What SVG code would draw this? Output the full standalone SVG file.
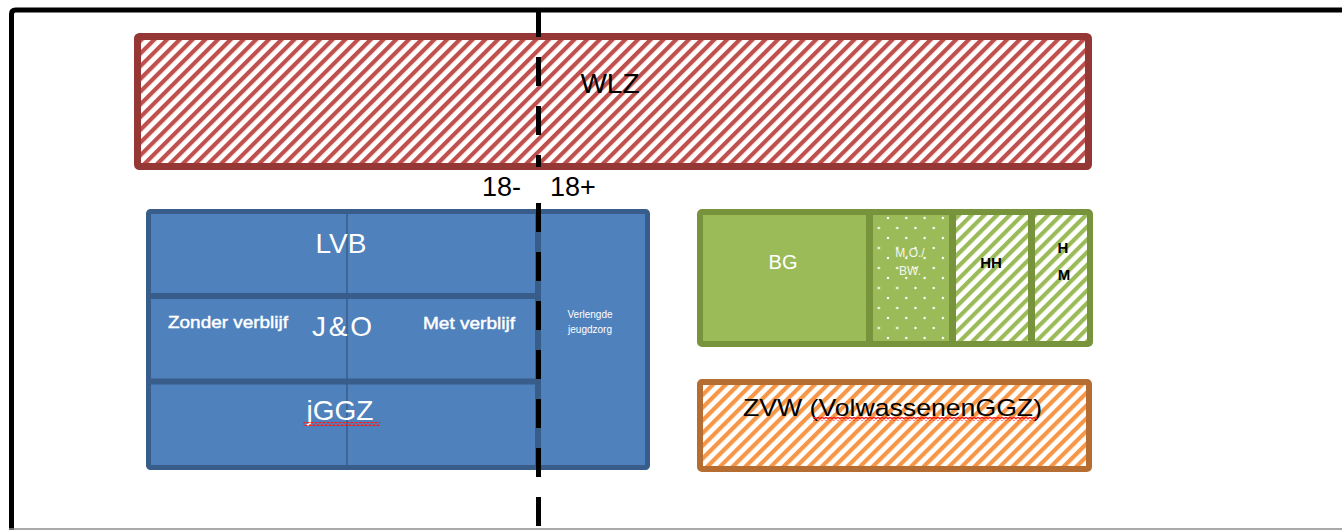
<svg xmlns="http://www.w3.org/2000/svg" width="1342" height="530" viewBox="0 0 1342 530">
<style>
.sans{font-family:"Liberation Sans",Arial,sans-serif}
.w{fill:#ffffff}
.k{fill:#000000}
.blueEdge{stroke:#385D8A;fill:none}
.greenEdge{stroke:#77933C;fill:none}
.semi{stroke:#ffffff;stroke-width:0.45}
</style>
<defs>
<pattern id="hatchRed" width="9" height="9" patternUnits="userSpaceOnUse" patternTransform="rotate(45)">
<rect width="9" height="9" fill="#ffffff"/><rect width="4.2" height="9" fill="#C0504D"/>
</pattern>
<pattern id="hatchGreen" width="9" height="9" patternUnits="userSpaceOnUse" patternTransform="rotate(45)">
<rect width="9" height="9" fill="#ffffff"/><rect width="4.2" height="9" fill="#9BBB59"/>
</pattern>
<pattern id="hatchOrange" width="9" height="9" patternUnits="userSpaceOnUse" patternTransform="rotate(45)">
<rect width="9" height="9" fill="#ffffff"/><rect width="4.2" height="9" fill="#F79646"/>
</pattern>
<pattern id="dots" x="888" y="218" width="18.3" height="20" patternUnits="userSpaceOnUse">
<rect width="18.3" height="20" fill="#9BBB59"/>
<circle cx="0" cy="0" r="1.2" fill="#ffffff"/><circle cx="18.3" cy="0" r="1.2" fill="#ffffff"/>
<circle cx="0" cy="20" r="1.2" fill="#ffffff"/><circle cx="18.3" cy="20" r="1.2" fill="#ffffff"/>
<circle cx="9.15" cy="10" r="1.2" fill="#ffffff"/>
</pattern>
<pattern id="squiggle" width="4" height="4" patternUnits="userSpaceOnUse">
<path d="M0 3 L2 1 L4 3" fill="none" stroke="#FF1A1A" stroke-width="1.3"/>
</pattern>
</defs>

<g id="frame">
<path d="M11.5 530 V14 Q11.5 10 15.5 10 H1342" fill="none" stroke="#000" stroke-width="5"/>
<line x1="9" y1="529" x2="1342" y2="529" stroke="#8c8c8c" stroke-width="1.5"/>
</g>

<g id="wlz">
<rect x="137.5" y="36.5" width="951" height="130" rx="2" fill="url(#hatchRed)" stroke="#953735" stroke-width="7"/>
<text class="sans k" x="610" y="93" font-size="28" text-anchor="middle">WLZ</text>
</g>

<g id="jeugd">
<rect x="148.5" y="211.5" width="499" height="256" rx="2" fill="#4F81BD" stroke="#385D8A" stroke-width="5"/>
<line class="blueEdge" x1="146" y1="296" x2="538" y2="296" stroke-width="6"/>
<line class="blueEdge" x1="146" y1="381.5" x2="538" y2="381.5" stroke-width="6"/>
<line class="blueEdge" x1="538" y1="209" x2="538" y2="470" stroke-width="6"/>
<line class="blueEdge" x1="347" y1="213" x2="347" y2="466" stroke-width="1.5"/>
<text class="sans w" x="341" y="253" font-size="28" text-anchor="middle">LVB</text>
<text class="sans w" x="342" y="336" font-size="28" text-anchor="middle" textLength="60">J&amp;O</text>
<text class="sans w" x="340" y="420" font-size="28" text-anchor="middle">jGGZ</text>
<rect x="303" y="422" width="77" height="4" fill="url(#squiggle)"/>
<text class="sans w semi" x="168" y="328" font-size="17" textLength="120" lengthAdjust="spacingAndGlyphs">Zonder  verblijf</text>
<text class="sans w semi" x="423" y="329" font-size="17" textLength="92" lengthAdjust="spacingAndGlyphs">Met verblijf</text>
<text class="sans w" x="590" y="318" font-size="10" text-anchor="middle">Verlengde</text>
<text class="sans w" x="590" y="333" font-size="10" text-anchor="middle">jeugdzorg</text>
</g>

<g id="wmo">
<rect x="703" y="215" width="163" height="127" fill="#9BBB59"/>
<rect x="873" y="215" width="76" height="127" fill="url(#dots)"/>
<rect x="956" y="215" width="72" height="127" fill="url(#hatchGreen)"/>
<rect x="1035" y="215" width="53" height="127" fill="url(#hatchGreen)"/>
<rect class="greenEdge" x="700" y="212" width="390" height="132" rx="2" stroke-width="6"/>
<line class="greenEdge" x1="869.5" y1="212" x2="869.5" y2="344" stroke-width="7"/>
<line class="greenEdge" x1="952.5" y1="212" x2="952.5" y2="344" stroke-width="7"/>
<line class="greenEdge" x1="1031.5" y1="212" x2="1031.5" y2="344" stroke-width="7"/>
<text class="sans w" x="783" y="269" font-size="20" text-anchor="middle">BG</text>
<text class="sans" x="910" y="257" font-size="12" text-anchor="middle" fill="#f4f7ee">M.O./</text>
<text class="sans" x="910" y="275" font-size="12" text-anchor="middle" fill="#f4f7ee">BW.</text>
<text class="sans k" x="991" y="268" font-size="15" font-weight="bold" text-anchor="middle">HH</text>
<text class="sans k" x="1063" y="253" font-size="15" font-weight="bold" text-anchor="middle">H</text>
<text class="sans k" x="1064" y="280" font-size="15" font-weight="bold" text-anchor="middle">M</text>
</g>

<g id="zvw">
<rect x="700" y="382" width="389" height="87" rx="2" fill="url(#hatchOrange)" stroke="#B66D31" stroke-width="6"/>
<text class="sans k" x="743" y="416" font-size="24" textLength="299" lengthAdjust="spacingAndGlyphs">ZVW (VolwassenenGGZ)</text>
<rect x="813" y="417" width="224" height="4" fill="url(#squiggle)"/>
</g>

<g id="age-labels">
<text class="sans k" x="482" y="196" font-size="27">18-</text>
<text class="sans k" x="550" y="196" font-size="27">18+</text>
</g>

<g id="connectors">
<line x1="538.5" y1="8" x2="538.5" y2="167" stroke="#000" stroke-width="5" stroke-dasharray="29 20"/>
<line x1="538.5" y1="203" x2="538.5" y2="530" stroke="#000" stroke-width="5" stroke-dasharray="29 20"/>
</g>
</svg>
